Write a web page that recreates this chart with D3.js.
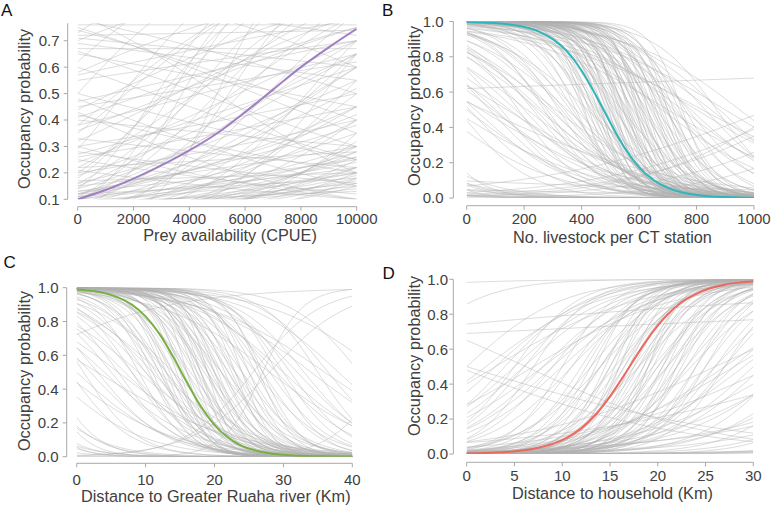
<!DOCTYPE html>
<html>
<head>
<meta charset="utf-8">
<script src="https://cdn.jsdelivr.net/npm/d3@7"></script>
<style>
  html, body { margin: 0; padding: 0; background: #fff; }
  svg { display: block; font-family: "Liberation Sans", Arial, Helvetica, sans-serif; }
</style>
</head>
<body>
<svg id="chart" width="777" height="506"></svg>
<script>
// ---------------- DATA ----------------
// Panel A: prey availability (CPUE)
const xTicksA = [0, 2000, 4000, 6000, 8000, 10000];
const yTicksA = [0.1, 0.2, 0.3, 0.4, 0.5, 0.6, 0.7];
const meanXA = [0, 1000, 2000, 3000, 4000, 5000, 6000, 7000, 8000, 9000, 10000];
const meanYA = [0.100, 0.135, 0.178, 0.228, 0.285, 0.350, 0.430, 0.515, 0.600, 0.675, 0.745];
// posterior draws: occupancy probability at CPUE = 0 and at CPUE = 10000
const drawStartA = [0.72,0.70,0.67,0.71,0.58,0.57,0.45,0.42,0.41,0.40,0.35,0.30,0.29,0.27,0.25,0.22,0.20,0.18,0.16,0.15,
  0.14,0.13,0.12,0.12,0.11,0.11,0.10,0.10,0.09,0.08,0.07,0.06,0.05,0.05,0.04,0.04,0.03,0.03,0.02,0.02,
  0.01,0.01,0.02,0.06,0.08,0.09,0.75,0.78,0.80,0.65,0.60,0.55,0.50,0.48,0.38,0.33,0.30,0.26,0.22,0.19,
  0.17,0.13,0.12,0.85,0.90,0.62,0.44,0.36,0.28,0.21,0.15,0.10,0.07,0.04,0.03,0.02,0.01,0.05,0.07,0.09,
  0.02,0.03,0.05,0.06,0.07,0.08,0.04,0.02,0.01,0.03,
  0.74,0.73,0.69,0.76,0.66,
  0.50,0.47,0.43,0.38,0.32,0.24,0.20,0.16,0.14,0.12,0.11,0.10,0.09,0.08,0.06];
const drawEndA = [0.74,0.95,0.67,0.60,0.90,0.78,0.62,0.20,0.75,0.30,0.95,0.50,0.99,0.60,0.12,0.85,0.40,0.97,0.55,0.30,
  0.99,0.25,0.70,0.18,0.45,0.22,0.90,0.35,0.20,0.60,0.28,0.40,0.80,0.22,0.50,0.18,0.95,0.30,0.70,0.15,
  0.99,0.35,0.25,0.14,0.16,0.13,0.35,0.50,0.20,0.45,0.25,0.70,0.99,0.15,0.65,0.22,0.10,0.45,0.28,0.65,
  0.20,0.38,0.52,0.72,0.60,0.99,0.85,0.75,0.16,0.10,0.80,0.26,0.45,0.65,0.40,0.55,0.65,0.17,0.20,0.24,
  0.20,0.22,0.19,0.26,0.15,0.30,0.28,0.32,0.18,0.16,
  0.40,0.99,0.55,0.76,0.30,
  0.25,0.70,0.10,0.95,0.80,0.70,0.95,0.90,0.65,0.42,0.95,0.60,0.99,0.85,0.99];

// Panel B: livestock per CT station
const xTicksB = [0, 200, 400, 600, 800, 1000];
const yTicksB = [0.0, 0.2, 0.4, 0.6, 0.8, 1.0];
const meanXB = [0,50,100,150,200,250,300,350,400,450,500,550,600,650,700,750,800,850,900,950,1000];
const meanYB = [0.997,0.995,0.991,0.983,0.969,0.944,0.900,0.829,0.721,0.581,0.426,0.283,0.175,0.102,0.057,0.031,0.017,0.009,0.005,0.003,0.001];
// posterior draws: x at which occupancy = 0.5, and logit change across the whole axis
const drawMidB = [380,395,405,415,425,435,445,455,460,470,480,490,495,500,510,515,525,535,540,550,
  560,565,575,585,595,605,615,625,640,655,670,690,710,730,760,520,470,600,450,540,
  430,545,580,620,505,465,650,700,
  410,440,475,485,500,520,530,555,570,590,610,630,645,660,675,685,695,720,740,560,
  590,630,545,480,455,610,660,700,750,
  330,300,280,350,260,380,230,310,200,360,420,270,250,320,290,340,240,370,
  150,100,50,120,0,-50,180,80,30,-100,140,60,170,90,10,210,-30,
  -300,-400,-250,-500,-350,-200,-600,-450,-280,-380,-150,
  750,800,850,700,780,820,900,680,880,950,720,770,830,870,
  -1885,1189,1100,1150,1300,1050,1400,-3000,-2800];
const drawSlopeB = [-14,-11,-16,-12,-18,-10,-14,-20,-12,-16,-11,-15,-22,-13,-17,-10,-14,-19,-12,-16,
  -11,-20,-14,-17,-12,-15,-18,-11,-14,-12,-16,-10,-13,-9,-11,-25,-24,-22,-9,-8,
  -13,-15,-10,-13,-18,-19,-17,-15,
  -20,-17,-13,-19,-16,-12,-21,-14,-18,-15,-20,-16,-12,-19,-14,-18,-12,-16,-14,-24,
  -26,-23,-20,-14,-11,-10,-9,-20,-18,
  -8,-7,-9,-6,-6,-7,-8,-5,-7,-9,-6,-10,-5.5,-10,-6,-8,-7,-11,
  -5,-6,-4,-8,-5,-4,-9,-7,-6,-5,-4,-3,-6,-5,-7,-5,-8,
  -8,-6,-10,-7,-12,-15,-5,-9,-7,-11,-12,
  -5,-4,-5,-4,-6,-3.5,-4,-5,-6,-5,-6.5,-8,-7,-9,
  0.26,3.28,4,3,3.5,2.5,4,-1,-0.8];

// Panel C: distance to Greater Ruaha river (km)
const xTicksC = [0, 10, 20, 30, 40];
const yTicksC = [0.0, 0.2, 0.4, 0.6, 0.8, 1.0];
const meanXC = [0,2,4,6,8,10,12,14,16,18,20,22,24,26,28,30,32,34,36,38,40];
const meanYC = [0.990,0.982,0.968,0.943,0.900,0.830,0.727,0.591,0.440,0.299,0.188,0.112,0.064,0.036,0.020,0.011,0.006,0.003,0.002,0.001,0.0005];
const drawMidC = [8,9,10,11,12,12.5,13,14,14.5,15,16,16.5,17,17.5,18,18.5,19,19.5,20,20.5,
  21,22,22.5,23,24,25,26,27,28,18,16,21,13.5,19,
  10.5,11.5,13,14,15.5,16,17,17.5,18,19,20,21,21.5,22,23,24,25,26,27,29,30,15,19,23,12,20,24,26.5,
  10,8,12,6,14,9,11,7,13,
  4,2,0,-2,5,3,-4,1,3,6,-1,
  -6,-8,-10,-5,-12,-7,-15,-9,-4,
  41,44,34,30,32,36,28,33,38,31,29,35,
  27,25.6,28,45,-10.6,36.5];
const drawSlopeC = [-10,-12,-9,-14,-11,-16,-10,-13,-18,-11,-14,-9,-12,-17,-13,-10,-15,-12,-11,-16,
  -13,-10,-14,-12,-9,-11,-8,-10,-9,-20,-22,-8,-15,-9.5,
  -13,-10,-16,-11,-15,-10,-19,-11,-15,-13,-18,-10,-15,-12,-17,-13,-15,-12,-14,-12,-10,-20,-22,-9,-13,-13,-18,-16,
  -7,-8,-6,-9,-6.5,-5.5,-7,-6.5,-8,
  -6,-7,-6,-5,-8,-4,-6,-10,-8,-5,-9,
  -10,-8,-12,-14,-9,-16,-10,-11,-12,
  -8,-5,-5,-6,-7,-4.5,-5,-8,-6,-9,-7,-10,
  14,8.2,7,10,3.6,-8];

// Panel D: distance to household (km)
const xTicksD = [0, 5, 10, 15, 20, 25, 30];
const yTicksD = [0.0, 0.2, 0.4, 0.6, 0.8, 1.0];
const meanXD = [0,1.5,3,4.5,6,7.5,9,10.5,12,13.5,15,16.5,18,19.5,21,22.5,24,25.5,27,28.5,30];
const meanYD = [0.003,0.005,0.008,0.013,0.021,0.036,0.058,0.094,0.148,0.226,0.330,0.453,0.582,0.700,0.797,0.869,0.917,0.949,0.969,0.981,0.989];
const drawMidD = [12,13,14,14.5,15,15.5,16,16.5,17,17.5,18,18.5,19,19.5,20,20.5,21,21.5,22,23,
  24,25,26,27,28,13,11,10,9,16,19,22,
  12.5,13.5,14,15,15.5,16,16.5,17,17.5,18,18.5,19,19.5,20,20.5,21,22,22.5,23,24,25,26,27,14,18,21,23.5,
  6,4,7,3,5,8,2,0,-7.7,-30,9,11,6,
  -40,-60,6.2,0,-1,
  30,33,36,40,35,38,45,32,28,26,42,50,29,31,34,37,27,33,
  60,45,40,50,70,55,65,48,
  5,8,3,10,7];
const drawSlopeD = [10,12,9,14,11,8,13,10,15,9,12,11,14,8,10,13,9,12,11,8,
  10,9,7,8,6,8,9,11,8,16,17,14,
  11,14,10,13,16,9,12,11,13,9,15,11,13,8.5,11,14,9,12,10,12,11,9,10,7,7,7.5,7,
  8,7,10,6,9,6.5,5,6,7,4,6,7,6,
  0.8,0.4,-3,-2,-2.5,
  6,7,6,8,4,5,9,3,4,3,6,10,5,6,5,7,4.5,4,
  4,3,2,2.5,3,5,4,3.5,
  6,5,4,6,4];

// ---------------- LAYOUT ----------------
const svg = d3.select("#chart");
const logistic = z => 1 / (1 + Math.exp(-z));
const logit = p => Math.log(p / (1 - p));

const panels = [
  { letter: "A", lx: 1, ly: 16, xDom: [0, 10000], yDom: [0.1, 0.766],
    xR: [77.7, 356.7], yR: [199.3, 23.3], yAxisX: 67.7, xAxisY: 206.7,
    xTicks: xTicksA, yTicks: yTicksA, xTickY: 223.5, yTickX: 59.5,
    xTitle: "Prey availability (CPUE)", xTitleX: 230, xTitleY: 241,
    yTitleX: 30, yTitleY: 109, color: "#a07fc2",
    mean: [meanXA, meanYA],
    draws: drawStartA.map((s, i) => ({ a: logit(s), b: logit(drawEndA[i]) - logit(s) })) },
  { letter: "B", lx: 382, ly: 16, xDom: [0, 1000], yDom: [0, 1],
    xR: [466.7, 754], yR: [198, 21.5], yAxisX: 453.3, xAxisY: 205.7,
    xTicks: xTicksB, yTicks: yTicksB, xTickY: 223.5, yTickX: 443.5,
    xTitle: "No. livestock per CT station", xTitleX: 612.5, xTitleY: 243,
    yTitleX: 420, yTitleY: 106, color: "#2fb6bb",
    mean: [meanXB, meanYB],
    draws: drawMidB.map((m, i) => ({ a: -drawSlopeB[i] * m / 1000, b: drawSlopeB[i] })) },
  { letter: "C", lx: 3.5, ly: 267.5, xDom: [0, 40], yDom: [0, 1],
    xR: [76.7, 352.3], yR: [456.7, 287.7], yAxisX: 66.7, xAxisY: 463.3,
    xTicks: xTicksC, yTicks: yTicksC, xTickY: 485, yTickX: 58.5,
    xTitle: "Distance to Greater Ruaha river (Km)", xTitleX: 215.8, xTitleY: 502,
    yTitleX: 30, yTitleY: 371, color: "#78b043",
    mean: [meanXC, meanYC],
    draws: drawMidC.map((m, i) => ({ a: -drawSlopeC[i] * m / 40, b: drawSlopeC[i] })) },
  { letter: "D", lx: 382.5, ly: 278.5, xDom: [0, 30], yDom: [0, 1],
    xR: [466.7, 753.3], yR: [454, 279.3], yAxisX: 453.3, xAxisY: 462.3,
    xTicks: xTicksD, yTicks: yTicksD, xTickY: 480.5, yTickX: 448,
    xTitle: "Distance to household (Km)", xTitleX: 612.5, xTitleY: 498.5,
    yTitleX: 420, yTitleY: 356, color: "#ea6a5f",
    mean: [meanXD, meanYD],
    draws: drawMidD.map((m, i) => ({ a: -drawSlopeD[i] * m / 30, b: drawSlopeD[i] })) }
];

const defs = svg.append("defs");
const textColor = "#404040";
const axisColor = "#a8a8a8";
const tickFont = 15;
const titleFont = 16.3;

panels.forEach((P, pi) => {
  const x = d3.scaleLinear().domain(P.xDom).range(P.xR);
  const y = d3.scaleLinear().domain(P.yDom).range(P.yR);
  const g = svg.append("g");

  const clipId = "clip" + pi;
  defs.append("clipPath").attr("id", clipId).append("rect")
    .attr("x", P.xR[0]).attr("y", P.yR[1])
    .attr("width", P.xR[1] - P.xR[0]).attr("height", P.yR[0] - P.yR[1]);

  const plot = g.append("g").attr("clip-path", `url(#${clipId})`);
  const xs = d3.range(0, 1.0001, 1 / 150).map(t => P.xDom[0] + t * (P.xDom[1] - P.xDom[0]));
  const line = d3.line().x(d => x(d[0])).y(d => y(d[1]));

  plot.selectAll("path.draw").data(P.draws).join("path")
    .attr("class", "draw")
    .attr("fill", "none")
    .attr("stroke", "#b4b4b4")
    .attr("stroke-opacity", 0.78)
    .attr("stroke-width", 0.6)
    .attr("d", dr => line(xs.map(v => {
      const t = (v - P.xDom[0]) / (P.xDom[1] - P.xDom[0]);
      return [v, logistic(dr.a + dr.b * t)];
    })));

  const meanPts = P.mean[0].map((v, i) => [v, P.mean[1][i]]);
  plot.append("path")
    .attr("fill", "none")
    .attr("stroke", P.color)
    .attr("stroke-width", 2)
    .attr("d", d3.line().x(d => x(d[0])).y(d => y(d[1])).curve(d3.curveMonotoneX)(meanPts));

  // y axis
  const yAxis = g.append("g").attr("transform", `translate(${P.yAxisX},0)`);
  yAxis.append("line").attr("x1", 0).attr("x2", 0)
    .attr("y1", P.yR[1]).attr("y2", y(P.yTicks[0]))
    .attr("stroke", axisColor).attr("stroke-width", 1);
  yAxis.selectAll("line.tick").data(P.yTicks).join("line").attr("class", "tick")
    .attr("x1", -4).attr("x2", 0).attr("y1", d => y(d)).attr("y2", d => y(d))
    .attr("stroke", axisColor).attr("stroke-width", 1);
  g.selectAll("text.ytick").data(P.yTicks).join("text").attr("class", "ytick")
    .attr("x", P.yTickX).attr("y", d => y(d)).attr("dy", "0.36em")
    .attr("text-anchor", "end").attr("font-size", tickFont).attr("fill", textColor)
    .text(d => d3.format(".1f")(d));

  // x axis
  const xAxis = g.append("g").attr("transform", `translate(0,${P.xAxisY})`);
  xAxis.append("line").attr("x1", x(P.xTicks[0])).attr("x2", x(P.xTicks[P.xTicks.length - 1]))
    .attr("y1", 0).attr("y2", 0).attr("stroke", axisColor).attr("stroke-width", 1);
  xAxis.selectAll("line.tick").data(P.xTicks).join("line").attr("class", "tick")
    .attr("x1", d => x(d)).attr("x2", d => x(d)).attr("y1", 0).attr("y2", 4)
    .attr("stroke", axisColor).attr("stroke-width", 1);
  g.selectAll("text.xtick").data(P.xTicks).join("text").attr("class", "xtick")
    .attr("x", d => x(d)).attr("y", P.xTickY)
    .attr("text-anchor", "middle").attr("font-size", tickFont).attr("fill", textColor)
    .text(d => d);

  // titles
  g.append("text").attr("x", P.xTitleX).attr("y", P.xTitleY)
    .attr("text-anchor", "middle").attr("font-size", titleFont).attr("fill", textColor)
    .text(P.xTitle);
  g.append("text")
    .attr("transform", `translate(${P.yTitleX},${P.yTitleY}) rotate(-90)`)
    .attr("text-anchor", "middle").attr("font-size", titleFont).attr("fill", textColor)
    .text("Occupancy probability");
  g.append("text").attr("x", P.lx).attr("y", P.ly)
    .attr("font-size", 17).attr("fill", "#111")
    .text(P.letter);
});
</script>
</body>
</html>
